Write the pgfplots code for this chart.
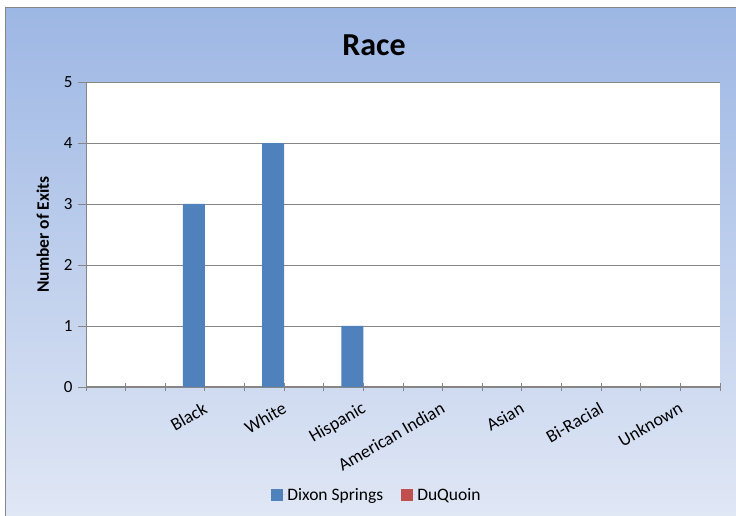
\documentclass[border=0pt]{standalone}
\usepackage{pgfplots}
\pgfplotsset{compat=1.18}
\usepackage{fontspec}
\setmainfont{Carlito}
\definecolor{dixon}{RGB}{79,129,189}
\definecolor{duq}{RGB}{192,80,77}
\definecolor{gridg}{RGB}{134,134,134}
\definecolor{bgtop}{RGB}{157,183,228}
\definecolor{bgbot}{RGB}{224,231,245}
\begin{document}
\begin{tikzpicture}
\path[use as bounding box] (0pt,0pt) rectangle (736pt,516pt);
\shade[top color=bgtop,bottom color=bgbot] (5pt,0pt) rectangle (736pt,508pt);
\draw[gridg,line width=1pt] (5pt,0pt) -- (5pt,508pt) -- (736pt,508pt);
\node[font=\bfseries\fontsize{32}{36}\selectfont] at (374pt,471pt) {Race};
\begin{axis}[
    at={(86pt,129pt)}, anchor=south west,
    scale only axis,
    width=634pt, height=305pt,
    axis background/.style={fill=white},
    ybar=0pt, bar width=22pt,
    xmin=-0.5, xmax=7.5,
    ymin=0, ymax=5,
    xtick={0,...,7},
    xticklabels={{},Black,White,Hispanic,American Indian,Asian,Bi-Racial,Unknown},
    minor xtick={-0.5,0.5,...,7.5},
    ytick={0,...,5},
    xtick align=center,
    ytick align=outside,
    major tick length=8pt, minor tick length=8pt,
    tick style={gridg, line width=0.8pt},
    axis x line*=bottom, axis y line*=left,
    axis line style={gridg, line width=1pt},
    ymajorgrids, grid style={gridg, line width=0.8pt},
    /pgf/number format/assume math mode=true,
    yticklabel style={font=\fontsize{17}{19}\selectfont, xshift=-2pt},
    xticklabel style={font=\fontsize{18}{20}\selectfont, rotate=30, anchor=north east, yshift=-4pt, xshift=-4pt},
    ylabel={Number of Exits},
    ylabel style={font=\bfseries\fontsize{17.5}{19}\selectfont, at={(axis description cs:-0.068,0.5)}, anchor=center},
    legend style={at={(axis description cs:0.459,-0.354)}, anchor=center, draw=none, fill=none,
        legend columns=2, font=\fontsize{17.5}{20}\selectfont,
        /tikz/every even column/.style={column sep=16pt}},
    legend image code/.code={\fill[#1] (0pt,-6pt) rectangle (12pt,6pt); \path (0pt,0pt) -- (14pt,0pt);},
]
\addplot[fill=dixon, draw=none] coordinates {(0,0) (1,3) (2,4) (3,1) (4,0) (5,0) (6,0) (7,0)};
\addlegendentry{Dixon Springs}
\addplot[fill=duq, draw=none] coordinates {(0,0) (1,0) (2,0) (3,0) (4,0) (5,0) (6,0) (7,0)};
\addlegendentry{DuQuoin}
\end{axis}
\end{tikzpicture}
\end{document}
